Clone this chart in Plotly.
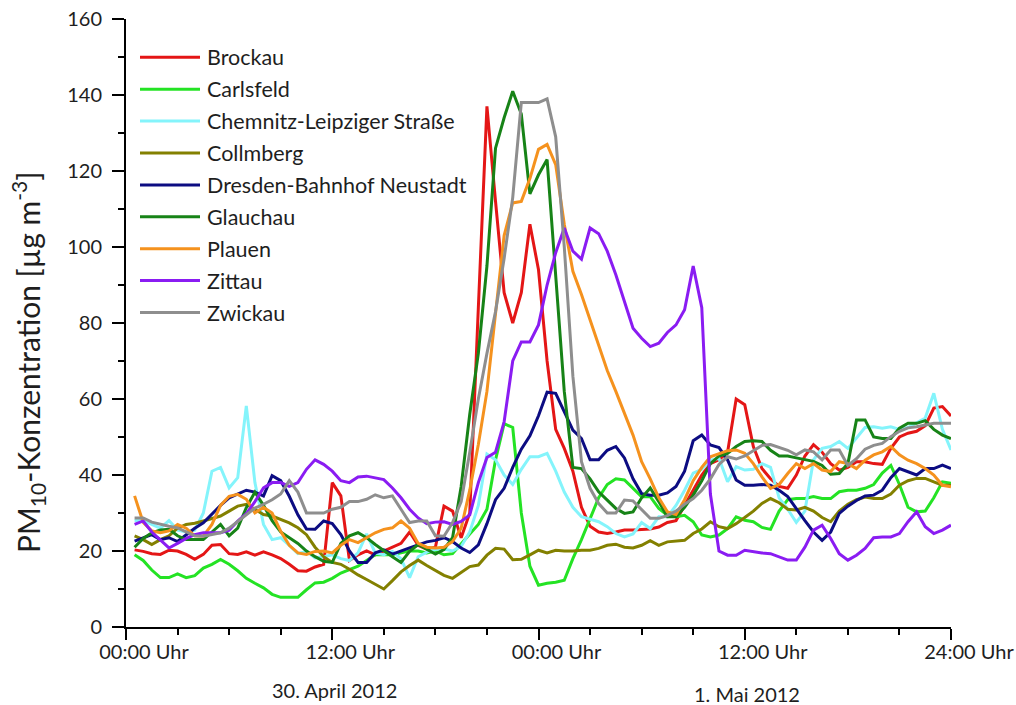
import pandas as pd
import plotly.graph_objects as go

# Half-hourly PM10 means, 30 Apr 2012 00:30 .. 2 May 2012 00:00
times = pd.date_range("2012-04-30 00:30", periods=96, freq="30min")

stations = ["Brockau", "Carlsfeld", "Chemnitz-Leipziger Straße", "Collmberg",
            "Dresden-Bahnhof Neustadt", "Glauchau", "Plauen", "Zittau", "Zwickau"]
colors = ["#e41616", "#24e324", "#84f4fb", "#838000", "#0c0c82",
          "#178317", "#f5921e", "#8a1cf2", "#8e8e8e"]

brockau = [20.3, 19.9, 19.3, 19.1, 20.2, 20.0, 19.1, 17.8, 19.1, 21.5, 21.7, 19.3,
           19.1, 19.8, 18.9, 19.8, 19.0, 18.0, 16.5, 14.8, 14.7, 15.8, 16.5, 38.0,
           34.5, 17.5, 19.0, 20.0, 19.0, 20.0, 21.0, 22.0, 25.0, 21.5, 20.5, 21.0,
           31.8, 30.5, 23.5, 30.0, 84.0, 137.0, 112.0, 88.0, 80.0, 88.0, 106.0, 94.0,
           70.0, 52.0, 47.0, 41.0, 31.5, 26.5, 25.0, 24.6, 25.0, 25.5, 25.5, 25.7,
           25.8, 26.3, 27.5, 28.0, 32.0, 36.0, 40.0, 43.0, 44.0, 46.0, 60.0, 58.5,
           47.5, 41.7, 39.0, 37.0, 36.5, 40.0, 45.0, 48.0, 46.0, 43.0, 41.3, 42.0,
           43.5, 43.5, 43.0, 42.8, 47.0, 50.0, 51.0, 51.5, 53.0, 57.6, 58.0, 55.5]
carlsfeld = [19.0, 17.5, 15.0, 13.0, 13.0, 14.0, 13.0, 13.5, 15.5, 16.5, 17.8, 16.5,
             14.8, 12.8, 11.5, 10.3, 8.6, 7.8, 7.8, 7.8, 9.8, 11.6, 11.8, 12.8,
             14.2, 15.1, 16.0, 17.5, 19.0, 19.0, 19.0, 19.5, 20.0, 20.0, 19.5, 20.0,
             19.0, 19.3, 22.0, 24.5, 27.0, 31.0, 44.0, 53.5, 52.5, 30.0, 16.0, 11.0,
             11.5, 11.8, 12.3, 18.0, 23.0, 28.5, 34.0, 37.5, 39.0, 38.7, 36.5, 34.3,
             34.3, 31.2, 29.4, 29.0, 29.4, 27.7, 24.2, 23.7, 24.2, 25.9, 29.0, 28.1,
             27.7, 26.2, 25.7, 30.5, 33.5, 33.8, 33.8, 34.3, 33.8, 33.8, 35.6, 36.0,
             36.0, 36.5, 37.5, 40.5, 42.5, 37.5, 31.5, 30.3, 30.5, 34.0, 38.2, 37.8]
chemnitz = [28.0, 28.0, 27.0, 26.0, 28.0, 25.5, 25.0, 25.5, 30.0, 41.0, 42.0, 36.6,
            39.3, 58.2, 38.0, 27.0, 23.0, 23.5, 21.5, 19.3, 19.9, 18.2, 18.5, 19.0,
            18.0, 17.5, 19.5, 24.5, 19.5, 19.0, 19.9, 18.0, 13.0, 18.5, 19.7, 20.4,
            20.5, 20.0, 21.2, 25.0, 32.0, 45.5, 44.0, 40.0, 37.5, 41.5, 44.8, 44.8,
            45.7, 41.0, 35.5, 31.5, 29.0, 28.4, 27.7, 26.4, 24.6, 23.7, 24.5, 27.5,
            25.9, 29.0, 29.0, 32.0, 36.0, 40.5, 41.5, 43.9, 44.4, 38.2, 42.2, 41.3,
            41.5, 43.0, 42.0, 34.0, 31.0, 27.5, 30.5, 44.0, 47.0, 47.5, 48.8, 47.0,
            49.6, 52.5, 52.7, 52.3, 52.7, 52.0, 52.5, 53.8, 55.0, 61.5, 52.0, 46.6]
collmberg = [24.0, 23.0, 21.7, 23.0, 24.0, 26.0, 27.0, 27.3, 27.9, 28.6, 29.2, 30.5,
             31.8, 32.3, 31.0, 29.6, 29.2, 28.3, 27.4, 26.1, 24.3, 21.0, 18.5, 17.0,
             16.5, 15.2, 13.7, 12.5, 11.3, 10.0, 12.2, 14.5, 16.2, 17.6, 16.2, 14.8,
             13.6, 12.8, 14.3, 15.9, 16.3, 18.9, 20.7, 20.5, 17.7, 17.8, 19.0, 20.2,
             19.5, 20.2, 20.0, 20.0, 20.2, 20.2, 20.7, 21.5, 21.8, 21.0, 20.8, 21.5,
             22.7, 21.5, 22.4, 22.6, 22.8, 24.6, 25.8, 27.7, 26.4, 25.9, 27.2, 28.8,
             30.5, 32.5, 33.8, 32.7, 31.0, 30.8, 31.5, 30.5, 28.8, 27.7, 30.5, 32.3,
             33.5, 34.2, 33.8, 33.8, 35.0, 37.3, 38.5, 39.1, 39.1, 38.2, 37.3, 37.3]
dresden = [22.6, 23.5, 24.3, 23.0, 23.5, 22.5, 24.3, 26.0, 27.4, 29.8, 32.0, 34.0,
           35.0, 36.0, 35.5, 34.5, 39.8, 38.5, 34.4, 29.5, 25.8, 25.7, 27.9, 27.2,
           24.3, 20.0, 17.0, 17.0, 19.5, 20.3, 19.2, 19.9, 20.8, 21.6, 22.4, 22.8,
           23.5, 22.5, 20.8, 19.6, 21.6, 27.2, 33.5, 36.5, 42.0, 46.8, 50.3, 55.6,
           61.8, 61.5, 56.6, 51.8, 49.6, 44.0, 44.0, 46.5, 47.5, 44.5, 39.0, 35.1,
           34.7, 34.7, 35.3, 37.0, 41.0, 49.0, 50.5, 47.9, 47.2, 44.0, 38.7, 37.3,
           37.3, 37.5, 37.3, 36.0, 34.3, 31.0, 28.0, 25.0, 22.8, 25.0, 29.9, 31.8,
           33.3, 34.5, 34.7, 36.0, 39.3, 41.7, 40.9, 40.0, 41.7, 41.7, 42.6, 41.7]
glauchau = [21.0, 23.3, 24.8, 25.5, 25.7, 24.0, 23.0, 23.0, 23.0, 25.0, 27.0, 24.0,
            26.0, 31.4, 35.5, 32.0, 28.0, 25.0, 23.5, 22.0, 20.0, 18.5, 17.3, 17.0,
            22.0, 24.0, 24.8, 23.5, 21.7, 20.0, 18.5, 17.0, 19.9, 21.7, 20.5, 19.2,
            20.4, 23.5, 37.0, 56.0, 72.0, 95.0, 126.0, 134.0, 141.0, 135.0, 114.0, 119.0,
            123.0, 92.0, 62.0, 42.0, 41.7, 39.0, 35.6, 33.4, 31.2, 29.9, 30.3, 34.0,
            36.6, 33.0, 29.0, 29.0, 31.5, 34.7, 38.5, 43.0, 45.0, 45.7, 47.5, 48.8,
            49.0, 48.8, 46.5, 45.0, 45.0, 44.5, 44.0, 43.6, 42.5, 40.2, 40.4, 43.0,
            54.5, 54.5, 50.0, 49.6, 49.6, 52.3, 53.6, 53.6, 54.3, 52.0, 50.5, 49.6]
plauen = [34.5, 27.5, 25.3, 24.8, 25.3, 27.0, 26.0, 24.0, 23.9, 27.0, 32.0, 34.4,
          34.9, 33.6, 30.0, 31.5, 30.0, 25.2, 21.5, 19.5, 19.1, 19.9, 20.0, 19.5,
          21.5, 23.0, 22.2, 23.4, 24.8, 25.7, 26.1, 27.9, 26.0, 22.0, 21.0, 20.8,
          21.0, 22.5, 26.0, 36.0, 48.0, 62.0, 82.0, 103.0, 111.6, 112.0, 118.0, 125.7,
          127.0, 121.7, 106.0, 93.6, 87.5, 81.0, 74.5, 67.5, 62.0, 56.5, 50.5, 43.5,
          39.0, 34.0, 30.3, 29.6, 33.5, 38.5, 42.0, 44.8, 45.6, 46.4, 46.6, 45.7,
          43.0, 39.5, 36.5, 37.5, 40.4, 43.0, 41.7, 43.0, 41.3, 40.9, 43.5, 43.0,
          41.7, 43.9, 45.3, 46.1, 47.5, 45.3, 43.9, 43.0, 41.7, 40.0, 37.3, 36.9]
zittau = [27.0, 27.9, 25.0, 22.8, 20.8, 22.0, 23.3, 24.3, 24.8, 24.8, 24.8, 25.5,
          27.9, 29.8, 33.0, 36.6, 38.0, 38.0, 37.0, 38.0, 41.5, 44.0, 42.8, 41.0,
          38.5, 38.0, 39.5, 39.7, 39.3, 38.8, 36.6, 34.0, 31.0, 28.7, 27.2, 27.6,
          27.7, 27.0, 27.8, 29.5, 38.0, 44.6, 46.0, 54.0, 70.0, 75.0, 75.0, 79.5,
          90.0, 98.5, 105.0, 98.9, 96.8, 105.0, 103.5, 98.9, 92.7, 85.7, 78.6, 76.0,
          73.8, 74.7, 77.5, 79.5, 83.5, 95.0, 84.0, 35.0, 20.0, 18.9, 18.9, 20.2,
          19.8, 19.5, 19.3, 18.5, 17.6, 17.6, 21.0, 25.5, 26.8, 23.3, 19.3, 17.6,
          18.9, 20.7, 23.5, 23.7, 23.7, 24.6, 27.7, 30.3, 26.4, 24.6, 25.5, 26.8]
zwickau = [28.7, 28.7, 27.6, 27.0, 26.5, 26.1, 25.0, 24.0, 23.9, 24.3, 24.8, 26.0,
           27.8, 29.5, 31.3, 32.3, 33.5, 35.0, 38.5, 35.5, 30.0, 30.0, 30.0, 31.0,
           31.5, 33.0, 33.0, 33.6, 34.8, 34.0, 34.5, 31.0, 27.5, 27.9, 27.9, 24.0,
           23.9, 27.5, 33.0, 46.0, 60.0, 72.0, 83.0, 97.0, 113.0, 138.0, 138.0, 138.0,
           139.0, 129.0, 100.0, 66.0, 43.5, 36.5, 32.5, 30.0, 30.0, 33.4, 33.2, 31.0,
           28.6, 28.6, 29.3, 30.5, 32.3, 33.8, 36.0, 39.0, 42.8, 44.8, 44.2, 45.0,
           46.4, 47.8, 48.0, 47.3, 46.5, 45.3, 46.6, 46.1, 44.0, 46.6, 46.6, 42.5,
           44.3, 46.8, 47.8, 48.3, 50.1, 51.5, 52.4, 52.7, 53.2, 53.6, 53.6, 53.6]

series = [brockau, carlsfeld, chemnitz, collmberg, dresden,
          glauchau, plauen, zittau, zwickau]

tick_times = ["2012-04-30 00:00", "2012-04-30 12:00", "2012-05-01 00:00",
              "2012-05-01 12:00", "2012-05-02 00:00"]
tick_text = ["00:00 Uhr", "12:00 Uhr", "00:00 Uhr", "12:00 Uhr", "24:00 Uhr"]
day_labels = ["30. April 2012", "1. Mai 2012"]
day_centres = ["2012-04-30 12:00", "2012-05-01 12:00"]

FONT = "Lato"
TXT = "#1e1e1e"
W, H = 1016, 705
ML, MR, MT, MB = 126, 65, 19, 78
PW, PH = W - ML - MR, H - MT - MB

fig = go.Figure()
for name, col, vals in zip(stations, colors, series):
    fig.add_trace(go.Scatter(x=times, y=vals, name=name, mode="lines",
                             line=dict(color=col, width=3), showlegend=False))

# legend block: long line swatches with labels, top-left inside the plot
for i, (name, col) in enumerate(zip(stations, colors)):
    yc = 57.3 + 31.9 * i
    yp = (H - MB - yc) / PH
    fig.add_shape(type="line", xref="paper", yref="paper",
                  x0=(140 - ML) / PW, x1=(200 - ML) / PW, y0=yp, y1=yp,
                  line=dict(color=col, width=3))
    fig.add_annotation(xref="paper", yref="paper", x=(205 - ML) / PW, y=yp,
                       text=name, showarrow=False, xanchor="left", yanchor="middle",
                       font=dict(family=FONT, size=21.5, color=TXT))

# y-axis title
fig.add_annotation(xref="paper", yref="paper", x=(28 - ML) / PW, y=(H - MB - 363) / PH,
                   text="PM<sub>10</sub>-Konzentration [µg m<sup>-3</sup>]",
                   textangle=-90, showarrow=False, xanchor="center", yanchor="middle",
                   font=dict(family=FONT, size=30, color=TXT))

# day captions under the time axis
for lab, centre, ypx in zip(day_labels, day_centres, [690, 694]):
    fig.add_annotation(xref="x", yref="paper", x=centre, y=(H - MB - ypx) / PH,
                       text=lab, showarrow=False, xanchor="center", yanchor="middle",
                       xshift=2, font=dict(family=FONT, size=20, color=TXT))

fig.update_layout(
    width=W, height=H,
    margin=dict(l=ML, r=MR, t=MT, b=MB, pad=0),
    paper_bgcolor="white", plot_bgcolor="white",
    font=dict(family=FONT, size=20, color=TXT),
    xaxis=dict(type="date", range=["2012-04-30 00:00", "2012-05-02 00:00"],
               automargin=False,
               tickmode="array", tickvals=tick_times, ticktext=tick_text,
               ticks="outside", ticklen=11, tickwidth=2, tickcolor="black",
               ticklabelshift=18, ticklabelstandoff=-5,
               showline=True, linewidth=2, linecolor="black",
               showgrid=False, zeroline=False,
               tickfont=dict(family=FONT, size=20, color=TXT),
               minor=dict(ticks="outside", ticklen=6, tickwidth=2, tickcolor="black",
                          dtick=3 * 3600 * 1000, tick0="2012-04-30 00:00",
                          showgrid=False)),
    yaxis=dict(range=[0, 160], tickmode="linear", tick0=0, dtick=20,
               automargin=False,
               ticks="outside", ticklen=12, tickwidth=2, tickcolor="black",
               ticklabelstandoff=6,
               showline=True, linewidth=2, linecolor="black",
               showgrid=False, zeroline=False,
               tickfont=dict(family=FONT, size=20, color=TXT),
               minor=dict(ticks="outside", ticklen=6, tickwidth=2, tickcolor="black",
                          dtick=10, showgrid=False)),
)

fig.write_html("out.html")
